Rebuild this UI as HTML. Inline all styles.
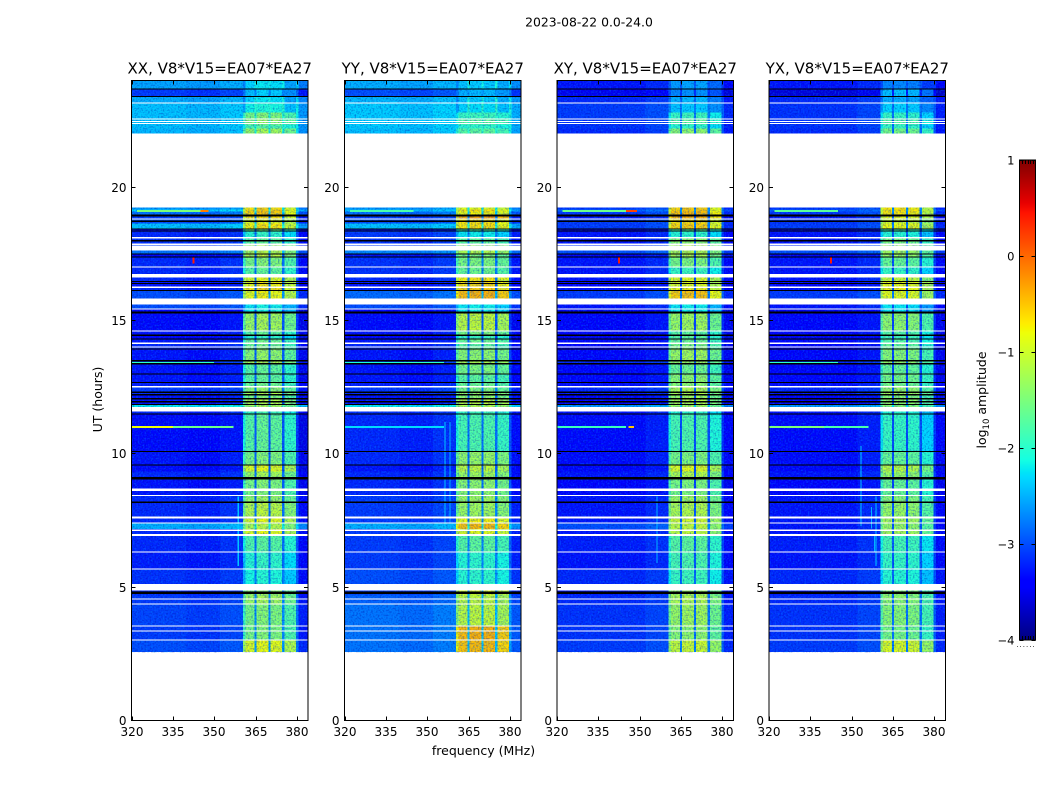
<!DOCTYPE html>
<html lang="en">
<head>
<meta charset="utf-8">
<title>2023-08-22 0.0-24.0</title>
<style>
html,body{margin:0;padding:0;background:#fff;}
svg{display:block;}
text{font-family:"DejaVu Sans","Liberation Sans",sans-serif;fill:#000;}
</style>
</head>
<body>
<svg id="chart" xmlns="http://www.w3.org/2000/svg" width="1050" height="800" viewBox="0 0 1050 800">
  <defs>
    <filter id="speckle-a" x="0" y="0" width="1" height="1" color-interpolation-filters="sRGB">
      <feTurbulence type="fractalNoise" baseFrequency="0.6" numOctaves="1" seed="4" result="n"/>
      <feColorMatrix in="n" type="matrix" values="0 0 0 0 0  0 0 0 0 0.6  0 0 0 0 1  1.1 0 0 0 -0.5" result="light"/>
      <feColorMatrix in="n" type="matrix" values="0 0 0 0 0  0 0 0 0 0  0 0 0 0 0.6  0 1.1 0 0 -0.5" result="dark"/>
      <feMerge><feMergeNode in="light"/><feMergeNode in="dark"/></feMerge>
    </filter>
  </defs>
  <text x="589" y="26.5" font-size="12.4" text-anchor="middle">2023-08-22 0.0-24.0</text>
  <text x="483.5" y="755" font-size="12.5" text-anchor="middle">frequency (MHz)</text>
  <text transform="translate(102,399.5) rotate(-90)" font-size="12.5" text-anchor="middle">UT (hours)</text>
  <text transform="translate(986,400) rotate(-90)" font-size="12.5" text-anchor="middle">log<tspan font-size="8.5" dy="3">10</tspan><tspan dy="-3"> amplitude</tspan></text>
  <g id="panels"></g>
  <g id="colorbar"></g>
</svg>
<script>
// ---- Panels ----
const panelTitles = ["XX, V8*V15=EA07*EA27", "YY, V8*V15=EA07*EA27", "XY, V8*V15=EA07*EA27", "YX, V8*V15=EA07*EA27"];
const xTickValues = [320, 335, 350, 365, 380];
const yTickValues = [0, 5, 10, 15, 20];
const colorbarTicks = [1, 0, -1, -2, -3, -4];

// ---- Time rows: UT edges, top to bottom ----
const rowEdgesUT = [23.98,23.66,23.40,23.14,22.80,22.58,22.35,22.20,22.02,19.23,
 19.16,19.09,18.96,18.83,18.64,18.45,18.34,18.11,17.89,17.63,
 17.51,17.36,17.03,16.73,16.46,16.24,16.13,15.83,15.60,15.45,
 15.26,14.63,14.44,14.33,14.14,13.91,13.50,13.35,12.98,12.68,
 12.53,12.34,12.19,12.04,11.85,11.76,11.48,10.09,9.56,9.34,
 9.11,8.70,8.44,8.18,7.65,7.39,7.18,6.98,6.30,5.70,
 5.10,4.73,4.35,3.56,3.04,2.56];

// ---- log10 amplitude per row: off-band background ----
const bgXX = [-2.45,-3.0,-2.4,-2.3,-2.3,-2.3,-2.3,-2.35,null,
 -2.5,-2.2,-2.7,-3.0,-2.9,-2.3,-3.3,-3.1,-3.05,-3.0,
 -2.7,-3.3,-3.1,-3.1,-3.1,-3.2,-3.1,-2.9,-2.2,-2.9,
 -3.3,-3.25,-3.2,-3.3,-3.2,-3.1,-3.2,-3.0,-3.2,-3.2,
 -3.15,-3.0,-3.1,-3.2,-3.2,-2.1,-3.1,-3.25,-3.2,-3.25,
 -3.1,-3.2,-3.2,-3.1,-3.1,-3.1,-2.4,-3.1,-3.1,-3.15,
 -3.05,-3.1,-3.0,-2.95,-3.0,-2.9];
const bgYY = [-2.4,-2.9,-2.35,-2.25,-2.25,-2.25,-2.25,-2.3,null,
 -2.5,-2.3,-2.7,-3.0,-2.9,-2.3,-3.2,-3.0,-3.05,-3.0,
 -2.6,-3.2,-3.05,-3.05,-3.1,-3.2,-3.1,-2.75,-2.15,-2.9,
 -3.3,-3.25,-3.2,-3.3,-3.2,-3.1,-3.2,-3.0,-3.2,-3.2,
 -3.15,-3.0,-3.1,-3.2,-3.2,-2.1,-3.05,-3.1,-3.1,-3.2,
 -3.1,-3.1,-3.1,-3.0,-3.0,-3.0,-2.4,-3.0,-3.0,-3.0,
 -2.9,-3.0,-2.8,-2.7,-2.7,-2.7];
const bgXY = [-3.2,-3.4,-3.1,-3.0,-3.0,-3.05,-3.05,-3.1,null,
 -3.0,-2.8,-3.0,-3.2,-3.0,-3.0,-3.4,-3.2,-3.2,-3.1,
 -2.9,-3.3,-3.2,-3.2,-3.2,-3.3,-3.2,-3.0,-2.8,-3.2,
 -3.4,-3.3,-3.3,-3.4,-3.3,-3.3,-3.3,-3.1,-3.3,-3.3,
 -3.25,-3.1,-3.2,-3.3,-3.3,-2.5,-3.2,-3.25,-3.25,-3.3,
 -3.2,-3.3,-3.3,-3.2,-3.2,-3.2,-2.9,-3.2,-3.15,-3.2,
 -3.1,-3.2,-3.1,-3.05,-3.05,-3.0];
const bgYX = [-3.2,-3.5,-3.1,-3.05,-3.05,-3.05,-3.05,-3.1,null,
 -3.0,-2.85,-3.0,-3.2,-3.05,-3.0,-3.4,-3.2,-3.2,-3.1,
 -2.9,-3.3,-3.2,-3.2,-3.2,-3.3,-3.2,-3.0,-2.8,-3.2,
 -3.4,-3.3,-3.3,-3.4,-3.3,-3.3,-3.3,-3.1,-3.3,-3.3,
 -3.25,-3.1,-3.2,-3.3,-3.3,-2.5,-3.2,-3.25,-3.25,-3.3,
 -3.2,-3.3,-3.3,-3.2,-3.2,-3.2,-3.2,-3.2,-3.15,-3.2,
 -3.1,-3.2,-3.1,-3.05,-3.05,-3.0];

// ---- log10 amplitude per row: 360-380 MHz band ----
const bandXX = [-2.3,-2.4,-2.3,-2.15,-1.5,-1.4,-1.8,-1.3,null,
 -0.7,-0.6,-0.6,-0.7,-0.9,-0.75,-1.6,-2.0,-1.7,-1.3,
 -1.2,-1.1,-1.5,-1.7,-0.9,-0.8,-0.7,-0.85,-2.2,-2.2,
 -2.2,-1.3,-1.7,-2.0,-1.6,-1.6,-1.4,-1.2,-1.7,-1.7,
 -1.6,-1.4,-1.2,-1.5,-1.2,-1.3,-1.9,-1.7,-1.5,-0.9,
 -1.3,-1.5,-1.5,-1.35,-1.15,-0.9,-1.2,-0.9,-1.75,-2.0,
 -2.1,-1.4,-1.3,-1.5,-1.5,-0.9];
const bandYY = [-2.4,-2.5,-2.4,-2.3,-1.9,-1.7,-2.0,-1.7,null,
 -0.9,-0.7,-0.8,-0.35,-0.7,-0.7,-1.8,-2.2,-1.7,-1.3,
 -1.2,-1.5,-1.5,-1.6,-0.75,-0.65,-0.6,-0.45,-2.1,-2.2,
 -2.2,-1.1,-1.5,-1.9,-1.6,-1.7,-1.4,-1.2,-1.5,-1.7,
 -1.6,-1.5,-1.3,-1.4,-1.1,-1.2,-1.9,-1.8,-1.35,-1.1,
 -1.3,-1.4,-1.4,-1.3,-1.3,-0.8,-0.5,-0.9,-1.7,-2.0,
 -2.0,-0.9,-1.1,-1.1,-0.45,-0.5];
const bandXY = [-2.6,-2.7,-2.5,-2.4,-1.9,-1.7,-2.0,-1.4,null,
 -0.6,-0.55,-0.5,-0.45,-0.7,-0.6,-1.7,-2.0,-1.4,-1.2,
 -1.2,-1.2,-1.5,-1.9,-0.9,-0.9,-0.8,-0.55,-1.9,-2.2,
 -2.2,-1.3,-1.7,-1.7,-1.6,-1.5,-1.3,-1.3,-1.6,-1.4,
 -1.4,-1.2,-1.2,-1.3,-1.2,-1.3,-2.0,-1.8,-1.5,-0.9,
 -1.2,-1.5,-1.5,-1.3,-1.2,-1.0,-1.1,-1.1,-1.7,-1.8,
 -1.9,-1.3,-1.2,-1.3,-1.4,-1.05];
const bandYX = [-2.7,-2.4,-2.5,-2.3,-1.9,-1.7,-1.9,-1.5,null,
 -0.7,-0.65,-0.7,-0.8,-1.0,-0.8,-1.8,-2.0,-1.5,-1.3,
 -1.25,-1.3,-1.6,-1.9,-1.0,-0.8,-0.75,-0.85,-2.0,-2.2,
 -2.2,-1.35,-1.7,-1.8,-1.7,-1.6,-1.4,-1.3,-1.6,-1.5,
 -1.5,-1.3,-1.2,-1.4,-1.3,-1.4,-2.0,-1.9,-1.6,-1.1,
 -1.3,-1.6,-1.6,-1.4,-1.3,-1.2,-1.3,-1.2,-1.8,-1.9,
 -2.0,-1.4,-1.35,-1.4,-1.5,-0.9];

// ---- Frequency columns: edges (MHz), source row series, offset per polarisation ----
const colEdgesMHz = [320,340,352,360.4,361.4,364.6,365.4,369.6,370.4,374.6,375.4,379.6,380.6,384];
const colIsBand = [0,0,0,1,1,0,1,0,1,0,1,0,0];
const colOffsetXX = [-0.1,-0.15,-0.05,-0.4,0,0.3,0.1,0.3,0.05,0.3,-0.25,0.15,-0.3];
const colOffsetYY = [-0.1,-0.15,-0.05,-0.3,0,0.3,0.05,0.3,0.05,0.3,-0.1,0.15,-0.25];
const colOffsetXY = [-0.1,-0.1,0,-0.3,0,0.25,0.05,0.25,0.05,0.25,-0.25,0.1,-0.2];
const colOffsetYX = [-0.1,-0.1,0,-0.3,0,0.25,0,0.25,-0.05,0.25,-0.4,0.1,-0.2];

// ---- Flagged rows drawn on top (UT upper, UT lower, kind: W blank, B black) ----
const flagUpperUT = [23.70,23.42,23.18,22.58,22.48,22.41,18.98,18.83,18.75,18.45,18.38,18.13,18.02,17.89,17.81,17.51,17.40,17.03,16.74,16.48,16.41,16.28,16.14,15.83,15.45,15.34,14.63,14.48,14.33,14.18,14.03,13.95,13.52,13.41,13.01,12.69,12.54,12.34,12.24,12.09,11.98,11.87,11.76,11.51,10.11,9.60,9.13,8.70,8.46,8.21,7.65,7.43,7.16,7.00,6.34,5.70,5.12,4.84,4.58,4.39,3.56,3.38,3.04];
const flagLowerUT = [23.66,23.38,23.14,22.54,22.44,22.37,18.90,18.79,18.69,18.41,18.34,18.08,17.96,17.83,17.63,17.47,17.36,16.99,16.61,16.44,16.37,16.22,16.11,15.60,15.41,15.26,14.59,14.42,14.29,14.12,13.99,13.91,13.46,13.35,12.98,12.66,12.49,12.28,12.19,12.04,11.93,11.83,11.59,11.48,10.07,9.56,9.04,8.61,8.42,8.16,7.58,7.39,7.11,6.92,6.30,5.66,4.88,4.74,4.54,4.35,3.53,3.34,3.00];
const flagKind = "BBWWWWBWBBBWBWWBBWWBBWBWWBWBBWWBBBBBWBBBBBWBBBBWWBWWWWWWWBWWWWW";

// ---- Narrow interference segments (panel index, UT upper, UT lower, MHz from, MHz to, level) ----
const hotPanel = [0,0,0,0,0,0,1,1,1,1,2,2,2,2,2,3,3,3,3,3,3,0,1,1,2,3,3,3];
const hotUTUpper = [11.04,11.04,19.14,19.14,13.45,17.37,11.04,19.14,13.45,13.45,11.04,11.04,19.14,19.14,17.37,11.04,11.04,19.14,17.37,13.45,6.98,8.4,11.2,11.2,8.4,10.3,8.0,8.4];
const hotUTLower = [10.97,10.97,19.07,19.07,13.38,17.14,10.97,19.07,13.38,13.38,10.97,10.97,19.07,19.07,17.14,10.97,10.97,19.07,17.14,13.38,6.3,5.8,7.2,7.2,5.9,7.3,7.2,5.8];
const hotMHzFrom = [320,335,322,345,320,342.2,320,322,320,340,320,346,322,345,342.2,320,340,322,342.2,320,358,358.5,356.2,358,356,353.2,357,358.6];
const hotMHzTo = [335,357,345,348,350,342.9,356,345,340,356,345,348,345,349,342.9,340,356,345,342.9,345,358.5,359,356.6,358.4,356.4,353.6,357.4,359];
const hotLevel = [-0.8,-1.6,-1.5,-0.1,-2.0,0.4,-2.3,-1.8,-2.1,-2.0,-1.9,-0.5,-1.6,0.2,0.4,-1.5,-1.8,-1.7,0.4,-2.0,-2.5,-2.4,-2.4,-2.5,-2.5,-2.4,-2.5,-2.4];

const panelBackground = [bgXX, bgYY, bgXY, bgYX];
const panelBand = [bandXX, bandYY, bandXY, bandYX];
const panelColOffset = [colOffsetXX, colOffsetYY, colOffsetXY, colOffsetYX];
const panelKeys = ["xx", "yy", "xy", "yx"];

// ---- Axis geometry ----
const frameLeft = [131.5, 344.5, 557, 769];
const frameWidth = 176.5;
const frameTop = 80.5, frameBottom = 720.5;
const xMin = 320, xMax = 384, utMax = 24;
const SVGNS = "http://www.w3.org/2000/svg";
const xScale = (p, f) => frameLeft[p] + (f - xMin) / (xMax - xMin) * frameWidth;
const yScale = u => frameBottom - u / utMax * (frameBottom - frameTop);
const cbTop = 160, cbBottom = 640, cbLeft = 1019.5, cbRight = 1035.5, cbMin = -4, cbMax = 1;
const cbScale = v => cbBottom - (v - cbMin) / (cbMax - cbMin) * (cbBottom - cbTop);

function interp(t, pts) {
  for (let i = 1; i < pts.length; i++) {
    if (t <= pts[i][0]) {
      const a = pts[i - 1], b = pts[i];
      return a[1] + (t - a[0]) / (b[0] - a[0]) * (b[1] - a[1]);
    }
  }
  return pts[pts.length - 1][1];
}
function jet(v) {
  const t = Math.max(0, Math.min(1, (v - cbMin) / (cbMax - cbMin)));
  const r = interp(t, [[0,0],[0.35,0],[0.66,1],[0.89,1],[1,0.5]]);
  const g = interp(t, [[0,0],[0.125,0],[0.375,1],[0.64,1],[0.91,0],[1,0]]);
  const b = interp(t, [[0,0.5],[0.11,1],[0.34,1],[0.65,0],[1,0]]);
  return "rgb(" + Math.round(r * 255) + "," + Math.round(g * 255) + "," + Math.round(b * 255) + ")";
}
function mk(tag, attrs, parent) {
  const el = document.createElementNS(SVGNS, tag);
  for (const k in attrs) el.setAttribute(k, attrs[k]);
  parent.appendChild(el);
  return el;
}
function tickLine(parent, x1, y1, x2, y2) {
  const t = mk("line", {x1: x1, y1: y1, x2: x2, y2: y2, stroke: "#000", "stroke-width": 1}, parent);
  
  
  return t;
}

const panelsRoot = document.getElementById("panels");
panelTitles.forEach(function (title, p) {
  const g = mk("g", {}, panelsRoot);
  
  
  const bg = panelBackground[p], band = panelBand[p], off = panelColOffset[p];

  // heatmap cells
  const cells = mk("g", {"shape-rendering": "crispEdges"}, g);
  
  
  for (let r = 0; r < rowEdgesUT.length - 1; r++) {
    if (bg[r] === null) continue;
    const y0 = yScale(rowEdgesUT[r]), y1 = yScale(rowEdgesUT[r + 1]);
    for (let c = 0; c < colEdgesMHz.length - 1; c++) {
      const level = (colIsBand[c] ? band[r] : bg[r]) + off[c];
      const x0 = xScale(p, colEdgesMHz[c]), x1 = xScale(p, colEdgesMHz[c + 1]);
      const cell = mk("rect", {x: x0, y: y0, width: x1 - x0, height: y1 - y0, fill: jet(level)}, cells);
      
      
    }
  }

  // channel-to-channel texture over each contiguous block of rows
  let blockStart = 0;
  for (let r = 0; r <= bg.length; r++) {
    if (r === bg.length || bg[r] === null) {
      if (r > blockStart) {
        const speck = mk("rect", {x: xScale(p, xMin), y: yScale(rowEdgesUT[blockStart]), width: frameWidth,
          height: yScale(rowEdgesUT[r]) - yScale(rowEdgesUT[blockStart]), fill: "#000", filter: "url(#speckle-a)"}, g);
        
        
      }
      blockStart = r + 1;
    }
  }

  const overlay = mk("g", {"shape-rendering": "crispEdges"}, g);
  
  

  // interference segments
  hotPanel.forEach(function (hp, i) {
    if (hp !== p) return;
    const seg = mk("rect", {x: xScale(p, hotMHzFrom[i]), y: yScale(hotUTUpper[i]),
      width: xScale(p, hotMHzTo[i]) - xScale(p, hotMHzFrom[i]),
      height: yScale(hotUTLower[i]) - yScale(hotUTUpper[i]), fill: jet(hotLevel[i])}, overlay);
    
    
  });

  // flagged rows
  flagUpperUT.forEach(function (u, i) {
    const fl = mk("rect", {x: xScale(p, xMin), y: yScale(u), width: frameWidth,
      height: yScale(flagLowerUT[i]) - yScale(u), fill: flagKind[i] === "W" ? "#fff" : "#000"}, overlay);
    
    
  });

  // frame
  const frame = mk("rect", {x: frameLeft[p], y: frameTop, width: frameWidth, height: frameBottom - frameTop,
    fill: "none", stroke: "#000", "stroke-width": 1}, g);
  
  

  // x ticks
  xTickValues.forEach(function (f) {
    const x = Math.round(xScale(p, f)) + 0.5;
    tickLine(g, x, frameBottom, x, frameBottom - 4);
    tickLine(g, x, frameTop, x, frameTop + 4);
    const lbl = mk("text", {x: x - 0.5, y: 736, "font-size": 12, "text-anchor": "middle"}, g);
    
    
    lbl.textContent = f;
  });
  // y ticks
  yTickValues.forEach(function (u) {
    const y = Math.round(yScale(u) - 0.5) + 0.5;
    tickLine(g, frameLeft[p], y, frameLeft[p] + 4, y);
    tickLine(g, frameLeft[p] + frameWidth, y, frameLeft[p] + frameWidth - 4, y);
    const lbl = mk("text", {x: frameLeft[p] - 5, y: y + 4.5, "font-size": 12, "text-anchor": "end"}, g);
    
    
    lbl.textContent = u;
  });
  // title
  const tt = mk("text", {x: frameLeft[p] + frameWidth / 2, y: 73.5, "font-size": 15, "text-anchor": "middle"}, g);
  
  
  tt.textContent = title;
});

// ---- Colorbar ----
const cbRoot = document.getElementById("colorbar");
const cbStrip = mk("g", {"shape-rendering": "crispEdges"}, cbRoot);


for (let y = cbTop; y < cbBottom; y++) {
  const v = cbMin + (cbBottom - y - 0.5) / (cbBottom - cbTop) * (cbMax - cbMin);
  const s = mk("rect", {x: cbLeft, y: y, width: cbRight - cbLeft, height: 1, fill: jet(v)}, cbStrip);
  
  
}
const cbFrame = mk("rect", {x: cbLeft, y: cbTop, width: cbRight - cbLeft, height: cbBottom - cbTop, fill: "none", stroke: "#000", "stroke-width": 1}, cbRoot);


colorbarTicks.forEach(function (v) {
  const y = Math.round(cbScale(v)) + 0.5;
  tickLine(cbRoot, cbLeft, y, cbLeft + 4, y);
  tickLine(cbRoot, cbRight, y, cbRight - 4, y);
  const lbl = mk("text", {x: cbLeft - 5, y: y + 4, "font-size": 11.5, "text-anchor": "end"}, cbRoot);
  
  
  lbl.textContent = v < 0 ? "\u2212" + Math.abs(v) : v;
});
for (let i = 1; i < 6; i++) {
  const x = Math.round(cbLeft + i * (cbRight - cbLeft) / 6) + 0.5;
  tickLine(cbRoot, x, cbTop, x, cbTop + 4);
  tickLine(cbRoot, x, cbBottom, x, cbBottom - 4);
}
const cbDots = mk("text", {x: 1026, y: 647, "font-size": 7, "text-anchor": "middle", "letter-spacing": "1", fill: "#888"}, cbRoot);


cbDots.textContent = "......";
</script>
</body>
</html>
